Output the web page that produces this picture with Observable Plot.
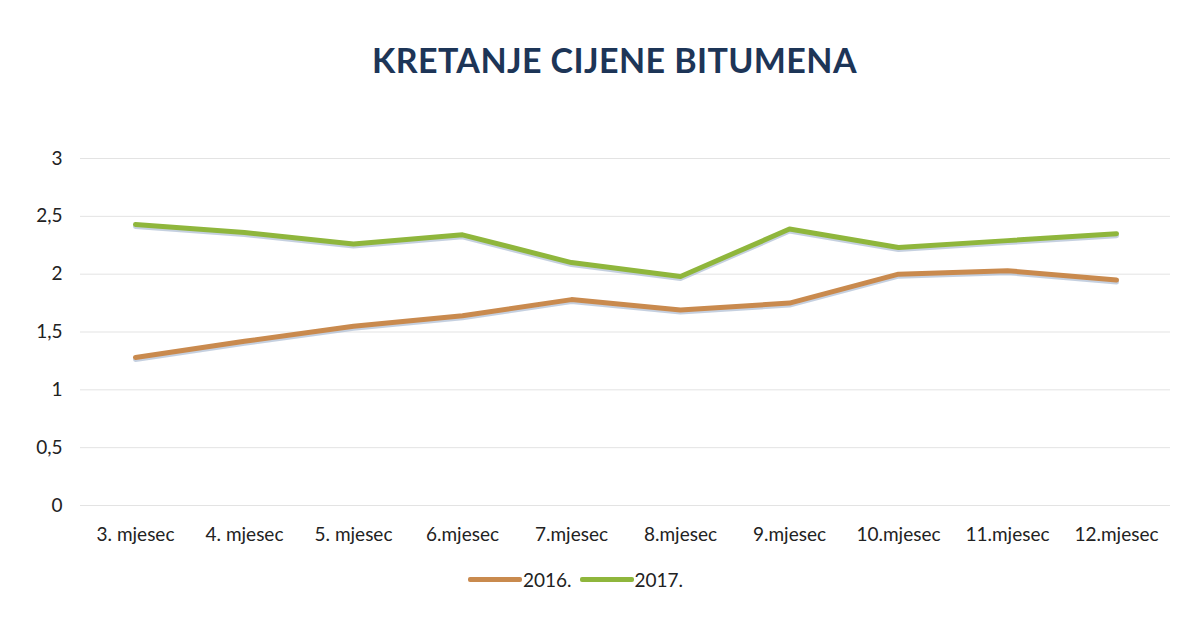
<!DOCTYPE html>
<html>
<head>
<meta charset="utf-8">
<script src="https://cdn.jsdelivr.net/npm/d3@7"></script>
<script src="https://cdn.jsdelivr.net/npm/@observablehq/plot@0.6"></script>
<style>
  html, body { margin: 0; padding: 0; background: #fff; font-family: Lato, "Open Sans", sans-serif; }
  #title { height: 100px; display: flex; align-items: center; justify-content: center; padding-top: 18px; padding-left: 40px; box-sizing: border-box;
           font-size: 34px; font-weight: 700; color: #1d3557; letter-spacing: 0.4px; }
  #legend { display: flex; justify-content: center; align-items: center; gap: 8px; font-size: 19px; color: #222; margin-top: 8px; padding-right: 38px; }
  .item { display: flex; align-items: center; gap: 1px; }
  .sw { width: 54px; height: 5px; display: inline-block; border-radius: 2px; }
</style>
</head>
<body>
<div id="title">KRETANJE CIJENE BITUMENA</div>
<div id="chart"></div>
<div id="legend"></div>
<script>
const months = ["3. mjesec", "4. mjesec", "5. mjesec", "6.mjesec", "7.mjesec", "8.mjesec", "9.mjesec", "10.mjesec", "11.mjesec", "12.mjesec"];
const values2016 = [1.28, 1.42, 1.55, 1.64, 1.78, 1.69, 1.75, 2.00, 2.03, 1.95];
const values2017 = [2.43, 2.36, 2.26, 2.34, 2.10, 1.98, 2.39, 2.23, 2.29, 2.35];
const seriesNames = ["2016.", "2017."];
const seriesColors = ["#c98a4e", "#8fb63c"];
const yTicks = [0, 0.5, 1, 1.5, 2, 2.5, 3];

const data = [];
months.forEach((m, i) => {
  data.push({month: m, value: values2016[i], series: seriesNames[0]});
  data.push({month: m, value: values2017[i], series: seriesNames[1]});
});

const fmt = d => String(d).replace(".", ",");

const plot = Plot.plot({
  width: 1189,
  height: 460,
  marginTop: 58,
  marginBottom: 55,
  marginLeft: 80,
  marginRight: 19,
  style: {fontFamily: "Lato, 'Open Sans', sans-serif", fontSize: "19px", color: "#222"},
  x: {type: "point", domain: months, label: null, tickSize: 0, tickPadding: 22},
  y: {domain: [0, 3], ticks: yTicks, tickFormat: fmt, label: null, tickSize: 0, tickPadding: 18},
  color: {domain: seriesNames, range: seriesColors},
  marks: [
    Plot.gridY(yTicks, {stroke: "#e3e3e3", strokeOpacity: 1, strokeWidth: 1}),
    Plot.axisY({ticks: yTicks, tickFormat: fmt, tickSize: 0, tickPadding: 18, label: null, fontSize: 19}),
    Plot.axisX({tickSize: 0, tickPadding: 22, label: null, fontSize: 19}),
    Plot.line(data, {x: "month", y: "value", z: "series", stroke: "#9fb0cc", strokeWidth: 5, dy: 2, strokeOpacity: 0.6}),
    Plot.line(data, {x: "month", y: "value", stroke: "series", strokeWidth: 5, strokeLinejoin: "round"})
  ]
});
document.getElementById("chart").appendChild(plot);

const legend = document.getElementById("legend");
seriesNames.forEach((s, i) => {
  const item = document.createElement("div");
  item.className = "item";
  const sw = document.createElement("span");
  sw.className = "sw";
  sw.style.background = seriesColors[i];
  const t = document.createElement("span");
  t.textContent = s;
  item.appendChild(sw);
  item.appendChild(t);
  legend.appendChild(item);
});
</script>
</body>
</html>
